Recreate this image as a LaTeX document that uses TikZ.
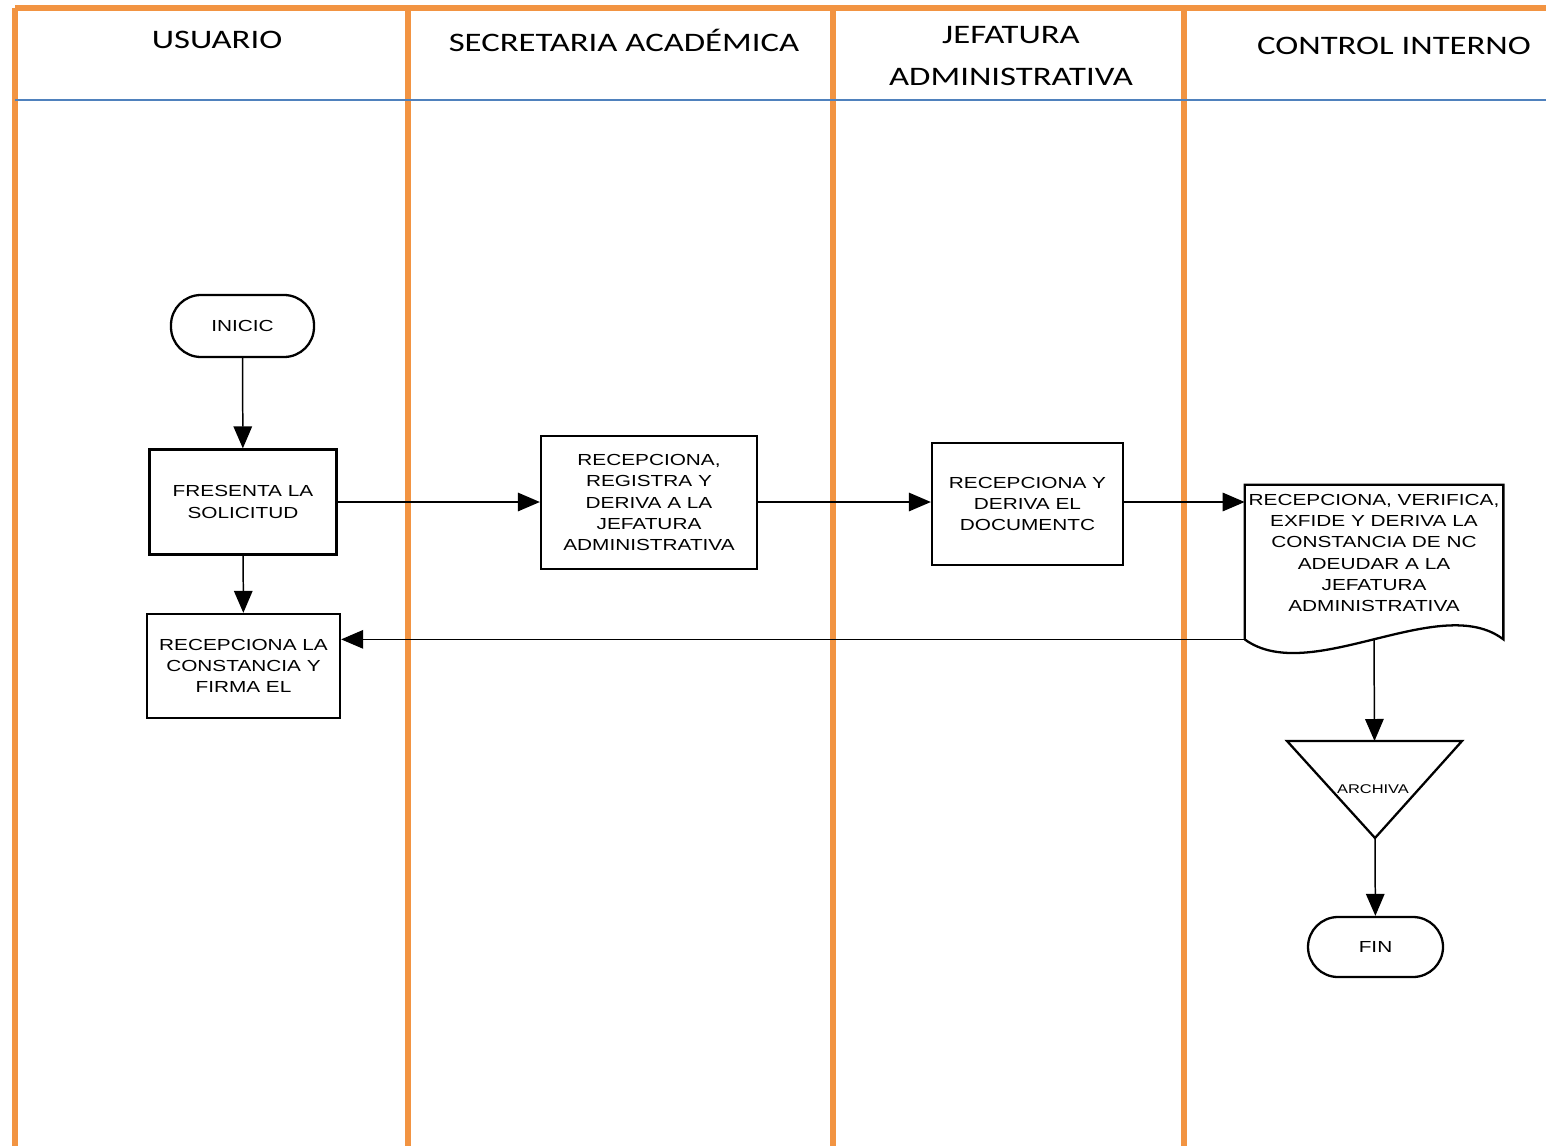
\documentclass[tikz,border=0pt]{standalone}
\usepackage{fontspec}
\newfontfamily\headfont[FakeStretch=1.3]{Carlito}
\newfontfamily\boxfont[FakeStretch=1.3]{Liberation Sans}
\usetikzlibrary{arrows.meta,positioning}
\definecolor{laneOrange}{RGB}{242,148,66}
\definecolor{headBlue}{RGB}{79,129,189}

\begin{document}
\begin{tikzpicture}[scale=1.0,
    lane/.style={line width=1.1mm, laneOrange},
    head/.style={font=\headfont\fontsize{15.2}{24}\selectfont, align=center},
    proc/.style={draw, line width=1.3pt, align=center, inner sep=0pt, font=\boxfont\fontsize{9.1}{12}\selectfont},
    term/.style={proc, rounded corners=6mm},
    flow/.style={-{Triangle[length=4.4mm,width=3.7mm]}, line width=0.85pt},
  ]
    \useasboundingbox (0,0) rectangle (30.92,-22.92);
    % swimlanes
    \draw[lane] (0.30,-0.16) -- (30.92,-0.16);
    \foreach \x in {0.30, 8.16, 16.66, 23.68} {
      \draw[lane] (\x,-0.16) -- (\x,-22.92);
    }
    \draw[headBlue, line width=0.6pt] (0.30,-2.0) -- (30.92,-2.0);
    % lane titles
    \node[head] (hUsr) at (4.34,-0.80) {USUARIO};
    \node[head] (hSec) at (12.48,-0.80) {SECRETARIA ACADÉMICA};
    \node[head] (hJef) at (20.22,-1.12) {JEFATURA\\ADMINISTRATIVA};
    \node[head] (hCtl) at (27.88,-0.92) {CONTROL INTERNO};
    % usuario
    \node[term, minimum width=2.86cm, minimum height=1.24cm] (inicio) at (4.85,-6.52) {INICIC};
    \node[proc, minimum width=3.74cm, minimum height=2.10cm] (present) at (4.86,-10.04) {FRESENTA LA\\SOLICITUD};
    \node[proc, minimum width=3.86cm, minimum height=2.08cm] (recibe) at (4.87,-13.32) {RECEPCIONA LA\\CONSTANCIA Y\\FIRMA EL};
    % secretaria
    \node[proc, minimum width=4.32cm, minimum height=2.66cm] (registra) at (12.98,-10.05) {RECEPCIONA,\\REGISTRA Y\\DERIVA A LA\\JEFATURA\\ADMINISTRATIVA};
    % jefatura
    \node[proc, minimum width=3.82cm, minimum height=2.44cm] (deriva) at (20.55,-10.08) {RECEPCIONA Y\\DERIVA EL\\DOCUMENTC};
    % control interno: document shape
    \node[minimum width=5.16cm, minimum height=3.08cm, inner sep=0pt] (doc) at (27.48,-11.24) {};
    \draw[line width=1.3pt] (doc.south west) -- (doc.north west) -- (doc.north east) -- (doc.south east)
      .. controls (28.80,-11.82) and (26.20,-13.74) .. (doc.south west);
    \node[proc, draw=none] (doctxt) at (27.48,-11.06) {RECEPCIONA, VERIFICA,\\EXFIDE Y DERIVA LA\\CONSTANCIA DE NC\\ADEUDAR A LA\\JEFATURA\\ADMINISTRATIVA};
    % archive triangle
    \coordinate (arcl) at (25.74,-14.82);
    \coordinate (arcr) at (29.24,-14.82);
    \coordinate (arcb) at (27.50,-16.76);
    \coordinate (arct) at (27.49,-14.82);
    \draw[line width=1.3pt] (arcl) -- (arcr) -- (arcb) -- cycle;
    \node[font=\boxfont\fontsize{7.2}{9}\selectfont, inner sep=0pt] (archiva) at (27.46,-15.78) {ARCHIVA};
    \node[term, minimum width=2.70cm, minimum height=1.20cm] (fin) at (27.51,-18.94) {FIN};
    % connectors
    \draw[flow] (inicio) -- (present);
    \draw[flow] (present) -- (recibe);
    \draw[flow] (present.east) -- (registra.west |- present.east);
    \draw[flow] (registra.east |- present.east) -- (deriva.west |- present.east);
    \draw[flow] (deriva.east |- present.east) -- (doc.west |- present.east);
    \draw[flow] (doc.south west) -- (doc.south west -| recibe.east);
    \draw[flow] (doc.south) -- (arct);
    \draw[flow] (arcb) -- (fin);
\end{tikzpicture}
\end{document}
